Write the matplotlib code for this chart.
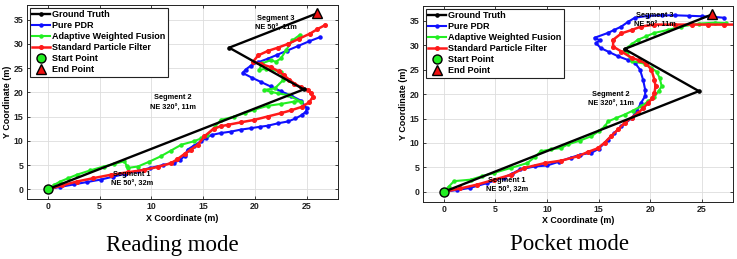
import matplotlib.pyplot as plt

# Ground truth path (same in both modes)
gt_x = [0, 24.7, 17.5, 26.0]
gt_y = [0, 20.6, 29.2, 36.3]

# Reading mode
read_pdr_x = [0, 1.2, 2.5, 3.8, 5.1, 6.3, 7.5, 8.7, 9.9, 11.1, 12.2, 12.8, 13.2, 13.5, 14.1, 14.8,
              15.3, 15.8, 16.7, 17.7, 18.6, 19.6, 20.5, 21.2, 22.2, 23.2, 23.9, 24.5, 24.9, 25.0,
              24.4, 23.5, 22.5, 21.5, 20.6, 19.7, 18.8, 19.1, 19.6, 20.3, 21.2, 22.1, 23.1, 24.1,
              25.2, 26.3]
read_pdr_y = [0, 0.5, 1.0, 1.5, 2.0, 2.6, 3.2, 3.8, 4.4, 5.0, 5.5, 6.1, 6.9, 8.2, 9.0, 9.9,
              10.6, 11.2, 11.6, 11.9, 12.3, 12.6, 12.9, 13.1, 13.6, 14.0, 14.6, 15.3, 16.0, 16.7,
              18.3, 19.3, 20.2, 21.2, 22.1, 23.0, 24.0, 24.7, 25.5, 26.2, 26.9, 27.7, 28.6, 29.5,
              30.5, 31.4]

read_awf_x = [0, 0.6, 1.2, 2.0, 2.8, 4.1, 5.4, 6.4, 7.4, 7.6, 7.7, 8.7, 9.8, 10.9, 11.9, 12.9,
              14.1, 14.8, 15.4, 16.1, 16.7, 18.0, 19.0, 19.9, 21.2, 22.5, 23.8, 24.4, 23.2, 22.2,
              21.5, 20.9, 21.9, 22.7, 22.5, 21.1, 20.4, 20.7, 21.5, 22.0, 22.5, 23.0, 23.6, 24.3]
read_awf_y = [0, 0.9, 1.6, 2.3, 3.0, 3.9, 4.7, 5.2, 5.8, 4.9, 4.4, 4.7, 5.7, 6.8, 8.0, 9.2,
              9.9, 10.5, 11.2, 12.8, 14.3, 15.0, 15.7, 16.4, 17.2, 17.6, 18.1, 18.1, 19.4, 19.8,
              20.1, 20.5, 20.8, 22.5, 24.2, 24.9, 24.6, 26.0, 26.6, 26.3, 27.0, 28.7, 30.7, 31.8]

read_spf_x = [0, 1.4, 2.8, 4.4, 6.1, 7.7, 9.3, 10.6, 11.9, 12.5, 13.2, 13.8, 14.5, 15.1, 16.0,
              16.7, 17.4, 18.6, 19.9, 21.2, 22.5, 23.5, 24.5, 25.2, 25.6, 25.4, 25.1, 24.45, 23.8,
              23.3, 22.8, 22.3, 21.5, 20.6, 19.8, 20.3, 21.2, 22.2, 23.2, 24.2, 25.3, 26.0, 26.7]
read_spf_y = [0, 0.8, 1.6, 2.3, 3.0, 3.5, 4.0, 4.6, 5.4, 6.2, 7.3, 8.2, 9.2, 10.9, 12.5,
              13.0, 13.3, 13.8, 14.3, 15.0, 15.7, 16.3, 17.0, 17.9, 19.1, 19.8, 20.5, 21.0, 21.8,
              22.6, 23.5, 24.3, 25.2, 25.8, 26.3, 27.6, 28.5, 29.2, 30.0, 31.0, 32.1, 33.0, 33.8]

# Pocket mode
pock_pdr_x = [0, 1.3, 2.5, 4.2, 5.8, 6.6, 7.4, 8.8, 10.0, 11.2, 12.3, 13.2, 14.3, 15.0, 15.9,
              16.5, 17.2, 18.2, 18.7, 19.1, 19.5, 19.5, 19.3, 19.0, 18.5, 17.8, 16.9, 16.0, 15.2,
              14.75, 15.1, 14.6, 15.9, 16.5, 17.2, 17.8, 18.5, 19.8, 21.1, 22.4, 23.7, 25.0, 26.0,
              27.1]
pock_pdr_y = [0, 0.4, 0.8, 1.8, 2.9, 3.7, 4.6, 5.2, 5.4, 6.2, 7.0, 7.6, 8.0, 8.8, 10.7,
              12.0, 13.4, 15.1, 16.6, 18.2, 19.6, 20.9, 22.9, 25.0, 26.4, 27.0, 27.7, 28.6, 29.4,
              30.4, 31.0, 31.5, 32.5, 33.1, 33.8, 34.7, 35.6, 36.0, 36.1, 36.1, 36.0, 35.9, 35.8,
              35.6]

pock_awf_x = [0, 0.5, 1.0, 2.6, 3.7, 4.9, 6.5, 8.1, 8.8, 9.4, 10.4, 11.4, 12.0, 13.2, 14.3,
              15.0, 15.6, 15.9, 16.7, 17.5, 18.3, 19.1, 19.8, 20.4, 20.8, 21.1, 20.9, 20.6, 20.1,
              19.5, 18.2, 17.7, 17.5, 18.2, 18.8, 19.6, 20.4, 21.7, 23.0, 24.7, 26.3, 27.3]
pock_awf_y = [0, 1.1, 2.2, 2.5, 3.2, 3.9, 4.9, 5.9, 7.1, 8.3, 8.7, 9.0, 9.7, 10.5, 11.4,
              12.4, 13.4, 14.4, 15.1, 15.8, 16.6, 17.5, 18.5, 19.5, 20.6, 21.6, 23.3, 24.6, 25.3,
              26.2, 26.7, 28.7, 29.1, 30.2, 31.1, 31.8, 32.5, 33.1, 33.8, 34.4, 34.6, 34.5]

pock_spf_x = [0, 1.6, 3.25, 4.9, 6.5, 7.8, 9.8, 11.4, 13.0, 14.0, 14.9, 15.6, 16.2, 16.9, 17.5,
              18.2, 18.8, 19.3, 19.8, 20.2, 20.4, 20.5, 20.4, 20.1, 19.6, 18.9, 18.2, 17.2, 16.4,
              16.4, 17.2, 18.2, 19.1, 20.4, 22.4, 24.0, 25.6, 27.1, 28.6]
pock_spf_y = [0, 0.7, 1.5, 2.5, 3.5, 4.9, 5.9, 6.4, 7.3, 8.2, 8.9, 10.1, 11.4, 12.8, 14.1,
              15.2, 16.1, 17.1, 18.2, 19.2, 20.2, 21.6, 22.9, 25.0, 26.2, 26.9, 27.4, 28.7, 29.7,
              31.1, 32.4, 33.1, 33.8, 34.2, 34.2, 34.2, 34.2, 34.2, 34.2]

# segment notes: two lines of text, and where they sit in each panel (x, y line 1, y line 2)
seg_labels = [("Segment 1", "NE 50°, 32m"), ("Segment 2", "NE 320°, 11m"), ("Segment 3", "NE 50°, 11m")]
read_seg_pos = [(8.1, 3.15, 1.1), (12.1, 19.0, 16.7), (22.0, 35.3, 33.1)]
pock_seg_pos = [(6.1, 2.3, 0.3), (16.2, 20.0, 18.0), (20.4, 36.0, 34.0)]

captions = ["Reading mode", "Pocket mode"]

plt.rcParams['font.family'] = ['Liberation Sans', 'DejaVu Sans']

fig = plt.figure(figsize=(7.37, 2.59), dpi=100)
W, H = 737.0, 259.0
ax1 = fig.add_axes([27 / W, 1 - 199 / H, 311 / W, 194 / H])
ax2 = fig.add_axes([423 / W, 1 - 201.7 / H, 310 / W, 195.7 / H])

panels = [
    (ax1, read_pdr_x, read_pdr_y, read_awf_x, read_awf_y, read_spf_x, read_spf_y, read_seg_pos),
    (ax2, pock_pdr_x, pock_pdr_y, pock_awf_x, pock_awf_y, pock_spf_x, pock_spf_y, pock_seg_pos),
]

for i, (ax, px, py, ax_, ay, sx, sy, segpos) in enumerate(panels):
    ax.plot(gt_x, gt_y, color='black', lw=1.7, marker='o', ms=2.3, zorder=5, label='Ground Truth')
    ax.plot(px, py, color='#1010ff', lw=1.5, marker='o', ms=2.2, zorder=2, label='Pure PDR')
    ax.plot(ax_, ay, color='#22ee22', lw=1.5, marker='o', ms=2.2, zorder=3, label='Adaptive Weighted Fusion')
    ax.plot(sx, sy, color='#ff1a1a', lw=1.8, marker='o', ms=2.6, zorder=4, label='Standard Particle Filter')
    ax.plot(gt_x[0], gt_y[0], 'o', color='#22ee22', mec='black', mew=1.0, ms=6.5, zorder=6, label='Start Point')
    ax.plot(gt_x[-1], gt_y[-1], '^', color='#ee1111', mec='black', mew=1.0, ms=6.5, zorder=6, label='End Point')

    for (l1, l2), (tx, ty1, ty2) in zip(seg_labels, segpos):
        ax.text(tx, ty1, l1, fontsize=5.3, fontweight='bold', ha='center', va='center', zorder=7)
        ax.text(tx, ty2, l2, fontsize=5.3, fontweight='bold', ha='center', va='center', zorder=7)

    ax.set_xlim(-2, 28)
    ax.set_ylim(-2, 38)
    ax.set_xticks([0, 5, 10, 15, 20, 25])
    ax.set_yticks([0, 5, 10, 15, 20, 25, 30, 35])
    ax.grid(True, color='#dddddd', lw=0.6)
    ax.set_axisbelow(True)
    ax.tick_params(direction='in', top=True, right=True, length=2.5, width=0.6,
                   labelsize=6.3, pad=2.5, colors='#222222')
    for lab in ax.get_xticklabels() + ax.get_yticklabels():
        lab.set_fontweight('bold')
    for sp in ax.spines.values():
        sp.set_linewidth(0.7)
        sp.set_color('#222222')
    ax.set_xlabel('X Coordinate (m)', fontsize=6.4, fontweight='bold', labelpad=1.5)
    ax.set_ylabel('Y Coordinate (m)', fontsize=6.4, fontweight='bold', labelpad=1.5)

    leg = ax.legend(loc='upper left', prop={'weight': 'bold', 'size': 6.5},
                    fancybox=False, edgecolor='#222222', framealpha=1, borderaxespad=0.35,
                    handlelength=1.9, handletextpad=0.3, labelspacing=0.22, borderpad=0.25)
    leg.get_frame().set_linewidth(0.8)

# captions under each panel
fig.text(172 / W, 1 - 245 / H, captions[0], ha='center', va='center',
         fontsize=16.5, family='Liberation Serif')
fig.text(569 / W, 1 - 245 / H, captions[1], ha='center', va='center',
         fontsize=16.5, family='Liberation Serif')

fig.savefig('out.png', dpi=100)
